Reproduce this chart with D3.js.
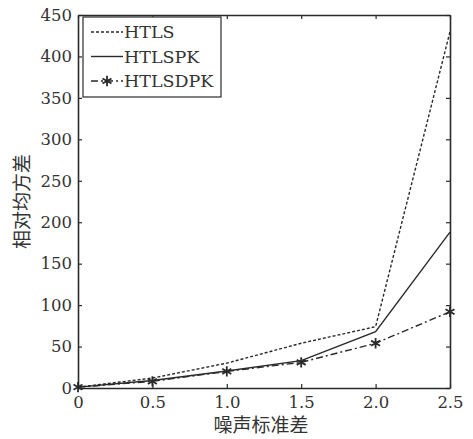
<!DOCTYPE html>
<html>
<head>
<meta charset="utf-8">
<script src="https://cdn.jsdelivr.net/npm/d3@7"></script>
<style>
  body { margin: 0; background: #fff; }
  svg text { font-family: "DejaVu Serif", "Liberation Serif", serif; fill: #333; }
</style>
</head>
<body>
<svg id="chart" width="473" height="439"></svg>
<script>
// noise std values (x axis)
const noiseStd = [0, 0.5, 1.0, 1.5, 2.0, 2.5];
// relative mean square error per method
const htls = [1, 12, 30, 54, 74, 430];
const htlspk = [1, 9, 20.5, 33, 68, 188];
const htlsdpk = [1, 8, 20, 31, 54, 92];
const seriesNames = ['HTLS', 'HTLSPK', 'HTLSDPK'];
const xTicks = [0, 0.5, 1.0, 1.5, 2.0, 2.5];
const yTicks = [0, 50, 100, 150, 200, 250, 300, 350, 400, 450];

const svg = d3.select('#chart');
const margin = {top: 15, right: 23, bottom: 51, left: 78};
const width = 473 - margin.left - margin.right;
const height = 439 - margin.top - margin.bottom;
const ink = '#2a2a2a';

const x = d3.scaleLinear().domain([0, 2.5]).range([0, width]);
const y = d3.scaleLinear().domain([0, 450]).range([height, 0]);

const g = svg.append('g').attr('transform', `translate(${margin.left},${margin.top})`);

// axes with inward ticks, mirrored on top and right
const fmtX = d => d === 0 ? '0' : d3.format('.1f')(d);
const axisStyle = sel => {
    sel.select('.domain').attr('stroke', ink).attr('stroke-width', 1.6);
    sel.selectAll('.tick line').attr('stroke', ink).attr('stroke-width', 1.2);
    sel.selectAll('.tick text').attr('font-size', '16.5px').attr('fill', '#3a3a3a');
};

g.append('g')
    .attr('transform', `translate(0,${height})`)
    .call(d3.axisBottom(x).tickValues(xTicks).tickFormat(fmtX).tickSizeInner(-4).tickSizeOuter(0).tickPadding(8))
    .call(axisStyle);

g.append('g')
    .call(d3.axisTop(x).tickValues(xTicks).tickFormat('').tickSizeInner(-4).tickSizeOuter(0))
    .call(axisStyle);

g.append('g')
    .call(d3.axisLeft(y).tickValues(yTicks).tickSizeInner(-4).tickSizeOuter(0).tickPadding(6))
    .call(axisStyle);

g.append('g')
    .attr('transform', `translate(${width},0)`)
    .call(d3.axisRight(y).tickValues(yTicks).tickFormat('').tickSizeInner(-4).tickSizeOuter(0))
    .call(axisStyle);

// lines
const styles = [
    {data: htls, dash: '3,2'},
    {data: htlspk, dash: null},
    {data: htlsdpk, dash: '7,3,2,3'}
];

const line = d3.line()
    .x((d, i) => x(noiseStd[i]))
    .y(d => y(d));

styles.forEach(s => {
    g.append('path')
        .datum(s.data)
        .attr('fill', 'none')
        .attr('stroke', ink)
        .attr('stroke-width', 1.4)
        .attr('stroke-dasharray', s.dash)
        .attr('d', line);
});

// star markers on HTLSDPK
const star = d3.symbol().type(d3.symbolAsterisk).size(75);
g.selectAll('.star')
    .data(htlsdpk)
    .enter().append('path')
    .attr('class', 'star')
    .attr('d', star)
    .attr('transform', (d, i) => `translate(${x(noiseStd[i])},${y(d)})`)
    .attr('fill', 'none')
    .attr('stroke', ink)
    .attr('stroke-width', 1.8);

// legend
const legend = svg.append('g').attr('transform', 'translate(83,17)');
legend.append('rect')
    .attr('width', 138)
    .attr('height', 80)
    .attr('fill', '#fff')
    .attr('stroke', ink)
    .attr('stroke-width', 1.2);

seriesNames.forEach((name, i) => {
    const yy = 15 + i * 24.5;
    legend.append('line')
        .attr('x1', 8).attr('x2', 40)
        .attr('y1', yy).attr('y2', yy)
        .attr('stroke', ink)
        .attr('stroke-width', 1.4)
        .attr('stroke-dasharray', styles[i].dash);
    if (i === 2) {
        legend.append('path')
            .attr('d', star)
            .attr('transform', `translate(24,${yy})`)
            .attr('fill', 'none')
            .attr('stroke', ink)
            .attr('stroke-width', 1.8);
    }
    legend.append('text')
        .attr('x', 41)
        .attr('y', yy)
        .attr('dy', '0.36em')
        .attr('font-size', '17.5px')
        .text(name);
});

// axis labels
svg.append('text')
    .attr('x', margin.left + width / 2 - 3)
    .attr('y', 432)
    .attr('text-anchor', 'middle')
    .attr('font-size', '19px')
    .style('font-family', '"Noto Sans CJK SC", sans-serif')
    .text('噪声标准差');

svg.append('text')
    .attr('transform', `translate(29,${margin.top + height / 2}) rotate(-90)`)
    .attr('text-anchor', 'middle')
    .attr('font-size', '19px')
    .style('font-family', '"Noto Sans CJK SC", sans-serif')
    .text('相对均方差');
</script>
</body>
</html>
